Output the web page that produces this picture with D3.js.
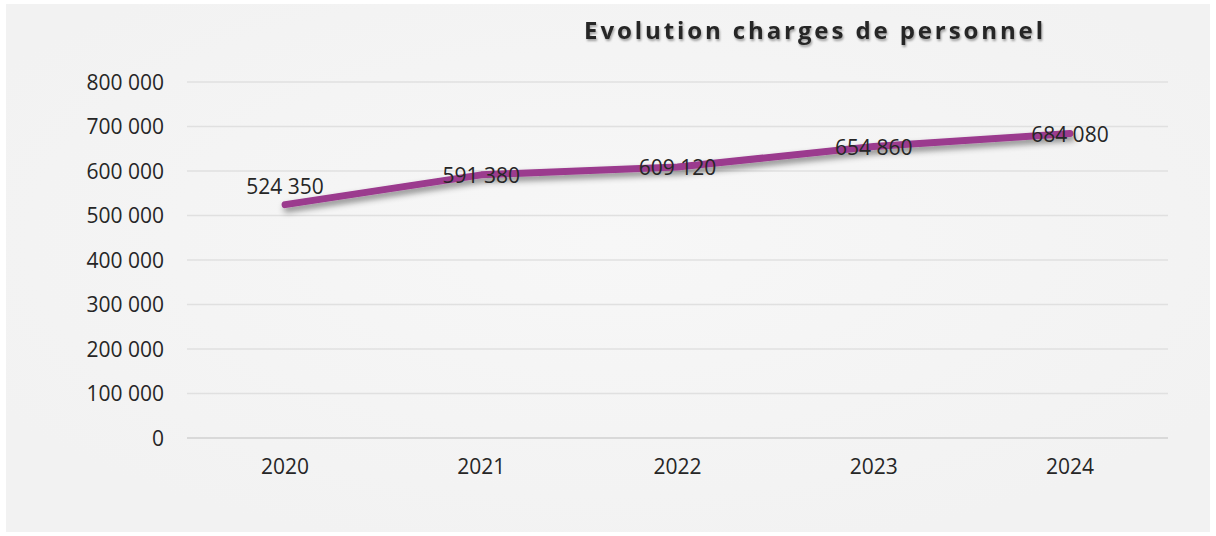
<!DOCTYPE html>
<html>
<head>
<meta charset="utf-8">
<script src="https://cdn.jsdelivr.net/npm/d3@7"></script>
<style>
  body { margin:0; background:#fff; }
  text { font-family: "Open Sans", sans-serif; fill:#262626; }
</style>
</head>
<body>
<div id="chart"></div>
<script>
// data
var years = ["2020", "2021", "2022", "2023", "2024"];
var charges = [524350, 591380, 609120, 654860, 684080];
var yTicks = [0, 100000, 200000, 300000, 400000, 500000, 600000, 700000, 800000];
var title = "Evolution charges de personnel";

var W = 1216, H = 536;
var plot = {left:187, right:1168, top:82, bottom:438};

var svg = d3.select("#chart").append("svg")
  .attr("width", W).attr("height", H);

var defs = svg.append("defs");
var grad = defs.append("radialGradient").attr("id","bg").attr("cx","50%").attr("cy","45%").attr("r","60%");
grad.append("stop").attr("offset","0%").attr("stop-color","#f7f7f7");
grad.append("stop").attr("offset","100%").attr("stop-color","#f2f2f2");

var shadow = defs.append("filter").attr("id","shadow")
  .attr("x","-10%").attr("y","-50%").attr("width","120%").attr("height","200%");
shadow.append("feDropShadow").attr("dx",2).attr("dy",4).attr("stdDeviation",3)
  .attr("flood-color","#000").attr("flood-opacity",0.45);

var tshadow = defs.append("filter").attr("id","tshadow")
  .attr("x","-5%").attr("y","-50%").attr("width","110%").attr("height","200%");
tshadow.append("feDropShadow").attr("dx",1).attr("dy",2).attr("stdDeviation",1.2)
  .attr("flood-color","#000").attr("flood-opacity",0.35);

// background of the chart area
svg.append("rect").attr("x",6).attr("y",4).attr("width",1204).attr("height",528)
  .attr("fill","url(#bg)");

var x = d3.scaleBand().domain(years).range([plot.left, plot.right]);
var y = d3.scaleLinear().domain([0, 800000]).range([plot.bottom, plot.top]);

var fmt = function(d) { return d3.format(",")(d).replace(/,/g, " "); };

// gridlines
svg.append("g").selectAll("line").data(yTicks).enter().append("line")
  .attr("x1", plot.left).attr("x2", plot.right)
  .attr("y1", function(d){ return y(d); }).attr("y2", function(d){ return y(d); })
  .attr("stroke", function(d){ return d === 0 ? "#d9d9d9" : "#e0e0e0"; })
  .attr("stroke-width", function(d){ return d === 0 ? 2 : 1.5; });

// y axis
var yAxis = svg.append("g").attr("transform","translate(" + (plot.left - 23) + ",0)")
  .call(d3.axisLeft(y).tickValues(yTicks).tickSize(0).tickPadding(0).tickFormat(fmt));
yAxis.select(".domain").remove();
yAxis.selectAll("text").attr("font-size", 21).attr("fill","#262626")
  .attr("font-family","'Open Sans', sans-serif").attr("dy","0.35em");

// x axis
var xAxis = svg.append("g").attr("transform","translate(0," + plot.bottom + ")")
  .call(d3.axisBottom(x).tickSize(0).tickPadding(21));
xAxis.select(".domain").remove();
xAxis.selectAll("text").attr("font-size", 21).attr("fill","#262626")
  .attr("font-family","'Open Sans', sans-serif");

// line
var line = d3.line()
  .x(function(d, i){ return x(years[i]) + x.bandwidth()/2; })
  .y(function(d){ return y(d); });

svg.append("path").datum(charges)
  .attr("d", line)
  .attr("fill","none")
  .attr("stroke","#9b3a8e")
  .attr("stroke-width", 7)
  .attr("stroke-linecap","round")
  .attr("stroke-linejoin","round")
  .attr("filter","url(#shadow)");

// data labels (first one sits above the point, others centred on it)
svg.append("g").selectAll("text").data(charges).enter().append("text")
  .attr("x", function(d, i){ return x(years[i]) + x.bandwidth()/2; })
  .attr("y", function(d, i){ return y(d) + (i === 0 ? -18 : 1); })
  .attr("dy","0.35em")
  .attr("text-anchor","middle")
  .attr("font-size", 21)
  .text(fmt);

// title
svg.append("text")
  .attr("x", 815).attr("y", 39)
  .attr("text-anchor","middle")
  .attr("font-size", 24)
  .attr("font-weight","bold")
  .attr("letter-spacing", 2.9)
  .attr("fill","#262626")
  .attr("filter","url(#tshadow)")
  .text(title);
</script>
</body>
</html>
